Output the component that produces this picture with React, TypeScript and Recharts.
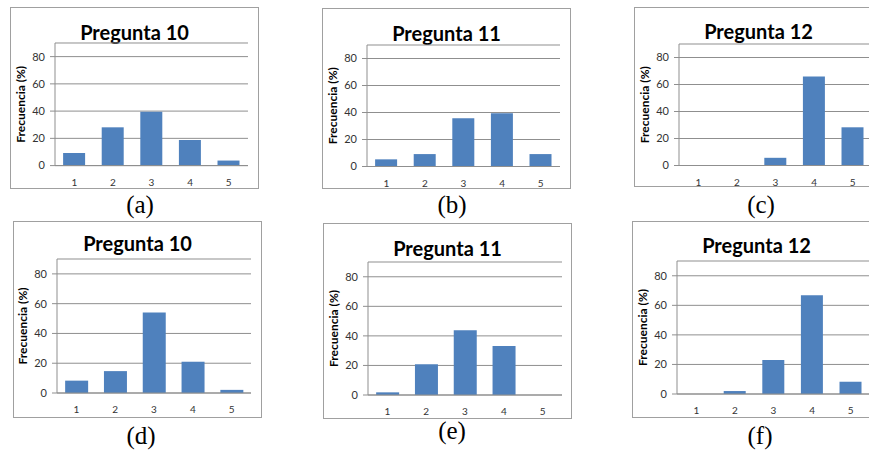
import { Bar, BarChart, CartesianGrid, XAxis, YAxis } from "recharts";

const categories = ["1", "2", "3", "4", "5"];
const yTicks = [0, 20, 40, 60, 80];

const pregunta10a = [9.3, 28.1, 39.5, 18.8, 3.7];
const pregunta11b = [5.3, 9.2, 35.8, 39.5, 9.2];
const pregunta12c = [0, 0, 5.7, 66, 28.3];
const pregunta10d = [8.3, 14.7, 54.1, 21, 2.1];
const pregunta11e = [1.8, 20.8, 43.8, 33.2, 0];
const pregunta12f = [0, 2, 23, 66.8, 8.3];

// layout of each panel in page pixels
const panels = [
  { title: "Pregunta 10", caption: "(a)", values: pregunta10a, frame: [10, 7, 249, 182], axisX: 55, plotRight: 248, y90: 43.4, y0: 166, titleY: 32, capX: 140, capY: 207 },
  { title: "Pregunta 11", caption: "(b)", values: pregunta11b, frame: [322, 8, 249, 181], axisX: 367, plotRight: 560, y90: 44.5, y0: 166, titleY: 33, capX: 452, capY: 207 },
  { title: "Pregunta 12", caption: "(c)", values: pregunta12c, frame: [634, 7, 249, 180], axisX: 679, plotRight: 872, y90: 43.5, y0: 165, titleY: 31, capX: 761, capY: 207 },
  { title: "Pregunta 10", caption: "(d)", values: pregunta10d, frame: [13, 221, 249, 197], axisX: 57, plotRight: 251, y90: 259, y0: 393, titleY: 243, capX: 141, capY: 438 },
  { title: "Pregunta 11", caption: "(e)", values: pregunta11e, frame: [323, 223, 249, 196], axisX: 368, plotRight: 562, y90: 262, y0: 395, titleY: 248, capX: 452, capY: 433 },
  { title: "Pregunta 12", caption: "(f)", values: pregunta12f, frame: [632, 221, 249, 197], axisX: 677, plotRight: 870, y90: 261, y0: 394, titleY: 245, capX: 760, capY: 438 },
];

const gridColor = "#8f8f8f";
const font = "Lato, 'Open Sans', sans-serif";

function Panel({ p }: { p: (typeof panels)[number] }) {
  const plotW = p.plotRight - p.axisX;
  const plotH = p.y0 - p.y90;
  const chartLeft = p.axisX - 50;
  const chartTop = p.y90 - 10;
  const data = categories.map((cat, i) => ({ cat, value: p.values[i] }));
  const [fx, fy, fw, fh] = p.frame;

  return (
    <>
      <div
        style={{
          position: "absolute",
          left: fx,
          top: fy,
          width: fw - 2,
          height: fh - 2,
          border: "1px solid #a0a0a0",
        }}
      />
      <div
        style={{
          position: "absolute",
          left: fx,
          width: fw,
          top: p.titleY - 10.5,
          height: 20,
          lineHeight: "20px",
          textAlign: "center",
          fontFamily: font,
          fontWeight: 700,
          fontSize: 20,
          color: "#000",
        }}
      >
        {p.title}
      </div>
      <div style={{ position: "absolute", left: chartLeft, top: chartTop }}>
        <BarChart
          width={plotW + 52}
          height={plotH + 35}
          data={data}
          margin={{ top: 10, right: 2, bottom: 0, left: 0 }}
          barCategoryGap="21%"
        >
          <CartesianGrid vertical={false} stroke={gridColor} />
          <XAxis
            dataKey="cat"
            height={25}
            axisLine={{ stroke: gridColor }}
            tickLine={false}
            tickSize={6}
            tickMargin={7}
            tick={{ fontSize: 10, fill: "#333", fontFamily: font }}
          />
          <YAxis
            width={50}
            domain={[0, 90]}
            ticks={yTicks}
            axisLine={{ stroke: gridColor }}
            tickLine={{ stroke: gridColor }}
            tickSize={5}
            tickMargin={5}
            tick={{ fontSize: 11, fill: "#333", fontFamily: font }}
            label={{
              value: "Frecuencia (%)",
              angle: -90,
              position: "insideLeft",
              offset: 16,
              textAnchor: "middle",
              style: { textAnchor: "middle", fontSize: 12, fontWeight: 700, fill: "#000", fontFamily: font },
            }}
          />
          <Bar dataKey="value" fill="#4F81BD" isAnimationActive={false} />
        </BarChart>
      </div>
      <div
        style={{
          position: "absolute",
          left: p.capX - 30,
          width: 60,
          top: p.capY - 15,
          height: 25,
          lineHeight: "25px",
          textAlign: "center",
          fontFamily: "'Liberation Serif', 'Times New Roman', serif",
          fontSize: 25,
          color: "#000",
        }}
      >
        {p.caption}
      </div>
    </>
  );
}

export default function App() {
  return (
    <div
      style={{
        position: "absolute",
        left: 0,
        top: 0,
        width: 869,
        height: 452,
        overflow: "hidden",
        background: "#fff",
      }}
    >
      {panels.map((p) => (
        <Panel key={p.caption} p={p} />
      ))}
    </div>
  );
}
